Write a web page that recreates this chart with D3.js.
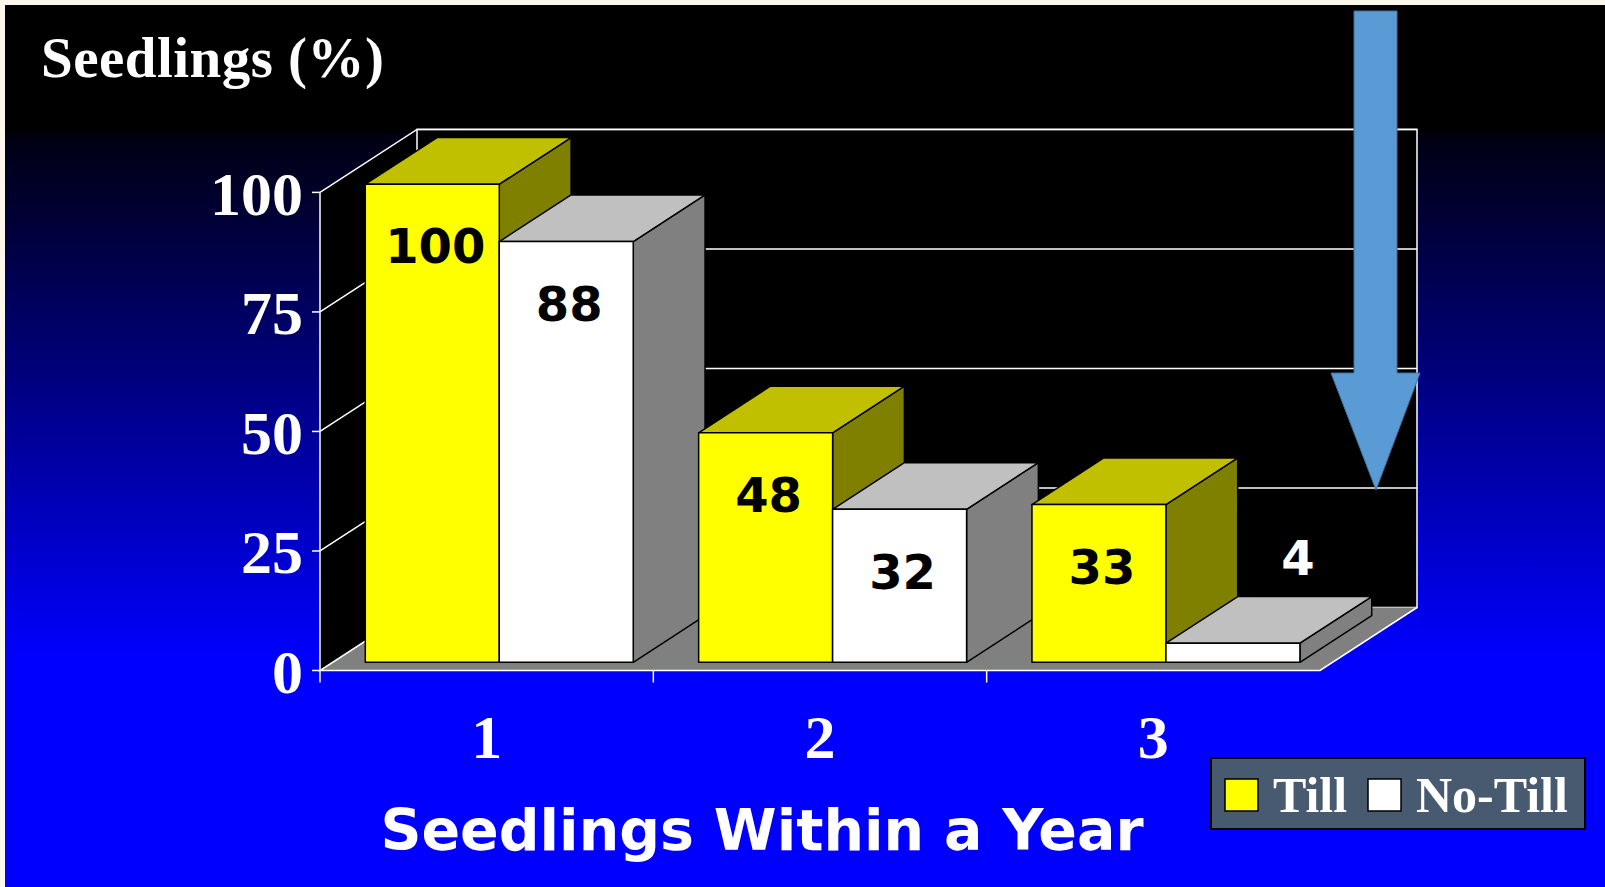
<!DOCTYPE html>
<html>
<head>
<meta charset="utf-8">
<script src="https://cdn.jsdelivr.net/npm/d3@7"></script>
<style>
  html, body { margin: 0; padding: 0; background: #fdf6ea; }
  svg { display: block; }
</style>
</head>
<body>
<svg id="chart"></svg>
<script>
// data
var categories = ["1", "2", "3"];
var series = ["Till", "No-Till"];
var tillValues = [100, 48, 33];
var noTillValues = [88, 32, 4];
var yTicks = [0, 25, 50, 75, 100];

var width = 1605;
var height = 887;

// depth of the 3d box
var DX = 97, DY = 63;
var z0 = 0.13, z1 = 0.87;

var frontColors = { "Till": "#ffff00", "No-Till": "#ffffff" };
var topColors = { "Till": "#c0c000", "No-Till": "#c0c0c0" };
var sideColors = { "Till": "#808000", "No-Till": "#808080" };

var svg = d3.select("#chart")
    .attr("width", width)
    .attr("height", height);

var defs = svg.append("defs");
var grad = defs.append("linearGradient")
    .attr("id", "bg")
    .attr("gradientUnits", "userSpaceOnUse")
    .attr("x1", 0).attr("y1", 133)
    .attr("x2", 0).attr("y2", 660);
grad.append("stop").attr("offset", 0).attr("stop-color", "#000010");
grad.append("stop").attr("offset", 1).attr("stop-color", "#0000ff");

// background
svg.append("rect")
    .attr("x", 5).attr("y", 5)
    .attr("width", width).attr("height", height)
    .attr("fill", "url(#bg)");
svg.append("rect")
    .attr("x", 5).attr("y", 5)
    .attr("width", width).attr("height", 128)
    .attr("fill", "#000");

var x = d3.scaleBand()
    .domain(categories)
    .range([320, 1320]);

var xs = d3.scaleBand()
    .domain(series)
    .range([0, x.bandwidth()])
    .paddingOuter(0.244);

var y = d3.scaleLinear()
    .domain([0, 100])
    .range([670.5, 192.4]);

var x0 = x.range()[0], x1 = x.range()[1];
var y0 = y(0), yTop = y(100);

// walls
var walls = svg.append("g");
// left wall
walls.append("polygon")
    .attr("points", [[x0, y0], [x0 + DX, y0 - DY], [x0 + DX, yTop - DY], [x0, yTop]].join(" "))
    .attr("fill", "#000");
// back wall
walls.append("rect")
    .attr("x", x0 + DX).attr("y", yTop - DY)
    .attr("width", x1 - x0).attr("height", y0 - yTop)
    .attr("fill", "#000")
    .attr("stroke", "#fff")
    .attr("stroke-width", 1.5);
// floor
walls.append("polygon")
    .attr("points", [[x0, y0], [x1, y0], [x1 + DX, y0 - DY], [x0 + DX, y0 - DY]].join(" "))
    .attr("fill", "#808080");
walls.append("polyline")
    .attr("points", [[x0 + DX, y0 - DY], [x0, y0], [x1, y0], [x1 + DX, y0 - DY]].join(" "))
    .attr("fill", "none")
    .attr("stroke", "#fff")
    .attr("stroke-width", 1.5);

// gridlines
walls.selectAll(".grid")
    .data(yTicks.filter(d => d > 0))
    .enter()
    .append("polyline")
      .attr("points", d => [[x0, y(d)], [x0 + DX, y(d) - DY], [x1 + DX, y(d) - DY]].join(" "))
      .attr("fill", "none")
      .attr("stroke", "#fff")
      .attr("stroke-width", 1.5);

// y axis
walls.append("line")
    .attr("x1", x0).attr("x2", x0)
    .attr("y1", y0).attr("y2", yTop)
    .attr("stroke", "#fff")
    .attr("stroke-width", 1.5);
walls.selectAll(".ytick")
    .data(yTicks)
    .enter()
    .append("line")
      .attr("x1", x0 - 8).attr("x2", x0)
      .attr("y1", d => y(d)).attr("y2", d => y(d))
      .attr("stroke", "#fff")
      .attr("stroke-width", 1.5);

svg.append("g")
  .selectAll("text")
  .data(yTicks)
  .enter()
  .append("text")
    .attr("x", x0 - 17)
    .attr("y", d => y(d))
    .attr("dy", "0.36em")
    .attr("text-anchor", "end")
    .attr("fill", "#fff")
    .style("font", "bold 62px 'Liberation Serif', 'Times New Roman', serif")
    .text(d => d);

// x ticks at category boundaries
walls.selectAll(".xtick")
    .data(categories)
    .enter()
    .append("line")
      .attr("x1", d => x(d)).attr("x2", d => x(d))
      .attr("y1", y0).attr("y2", y0 + 12)
      .attr("stroke", "#fff")
      .attr("stroke-width", 1.5);

svg.append("g")
  .selectAll("text")
  .data(categories)
  .enter()
  .append("text")
    .attr("x", d => x(d) + x.bandwidth() / 2)
    .attr("y", y0 + 87)
    .attr("text-anchor", "middle")
    .attr("fill", "#fff")
    .style("font", "bold 62px 'Liberation Serif', 'Times New Roman', serif")
    .text(d => d);

// bars
var bars = [];
categories.forEach(function(c, i) {
  bars.push({ cat: c, series: "Till", value: tillValues[i] });
  bars.push({ cat: c, series: "No-Till", value: noTillValues[i] });
});

var barG = svg.append("g");
bars.forEach(function(d) {
  var left = x(d.cat) + xs(d.series);
  var right = left + xs.bandwidth();
  var fx = z0 * DX, fy = z0 * DY, bx = z1 * DX, by = z1 * DY;
  var t = y(d.value), b = y(0);
  var g = barG.append("g");
  g.append("polygon")
    .attr("points", [[right + fx, t - fy], [right + bx, t - by], [right + bx, b - by], [right + fx, b - fy]].join(" "))
    .attr("fill", sideColors[d.series]);
  g.append("polygon")
    .attr("points", [[left + fx, t - fy], [left + bx, t - by], [right + bx, t - by], [right + fx, t - fy]].join(" "))
    .attr("fill", topColors[d.series]);
  g.append("rect")
    .attr("x", left + fx).attr("y", t - fy)
    .attr("width", right - left).attr("height", b - t)
    .attr("fill", frontColors[d.series]);
  g.selectAll("polygon, rect")
    .attr("stroke", "#000")
    .attr("stroke-width", 1.5)
    .attr("stroke-linejoin", "round");
  d.cx = (left + right) / 2 + fx;
  d.top = t - fy;
});

// value labels
svg.append("g")
  .selectAll("text")
  .data(bars)
  .enter()
  .append("text")
    .attr("x", d => d.value >= 10 ? d.cx + 3 : d.cx + 65)
    .attr("y", d => d.value >= 10 ? d.top + 62 : d.top - 85)
    .attr("dy", "0.36em")
    .attr("text-anchor", "middle")
    .attr("fill", d => d.value >= 10 ? "#000" : "#fff")
    .style("font", "bold 48px 'DejaVu Sans', Verdana, sans-serif")
    .text(d => d.value);

// titles
svg.append("text")
    .attr("x", 41)
    .attr("y", 77)
    .attr("fill", "#fff")
    .style("font", "bold 57px 'Liberation Serif', 'Times New Roman', serif")
    .attr("textLength", 343)
    .text("Seedlings (%)");

svg.append("text")
    .attr("x", 762)
    .attr("y", 850)
    .attr("text-anchor", "middle")
    .attr("fill", "#fff")
    .style("font", "bold 57px 'DejaVu Sans', Verdana, sans-serif")
    .text("Seedlings Within a Year");

// legend
var legend = svg.append("g").attr("transform", "translate(1211,758)");
legend.append("rect")
    .attr("width", 374).attr("height", 71)
    .attr("fill", "#475a6f")
    .attr("stroke", "#000")
    .attr("stroke-width", 2);
var legendX = { "Till": 14, "No-Till": 157 };
var item = legend.selectAll(".item")
    .data(series)
    .enter()
    .append("g")
      .attr("transform", d => "translate(" + legendX[d] + ",21)");
item.append("rect")
    .attr("width", 33).attr("height", 32)
    .attr("fill", d => frontColors[d])
    .attr("stroke", "#000")
    .attr("stroke-width", 1.5);
item.append("text")
    .attr("x", 48)
    .attr("y", 33)
    .attr("fill", "#fff")
    .style("font", "bold 50px 'Liberation Serif', 'Times New Roman', serif")
    .text(d => d);

// arrow annotation
svg.append("path")
    .attr("d", "M1354,11 L1397,11 L1397,373 L1420,373 L1376,490 L1331,373 L1354,373 Z")
    .attr("fill", "#5b9bd5")
    .attr("stroke", "#41719c")
    .attr("stroke-width", 1);
</script>
</body>
</html>
